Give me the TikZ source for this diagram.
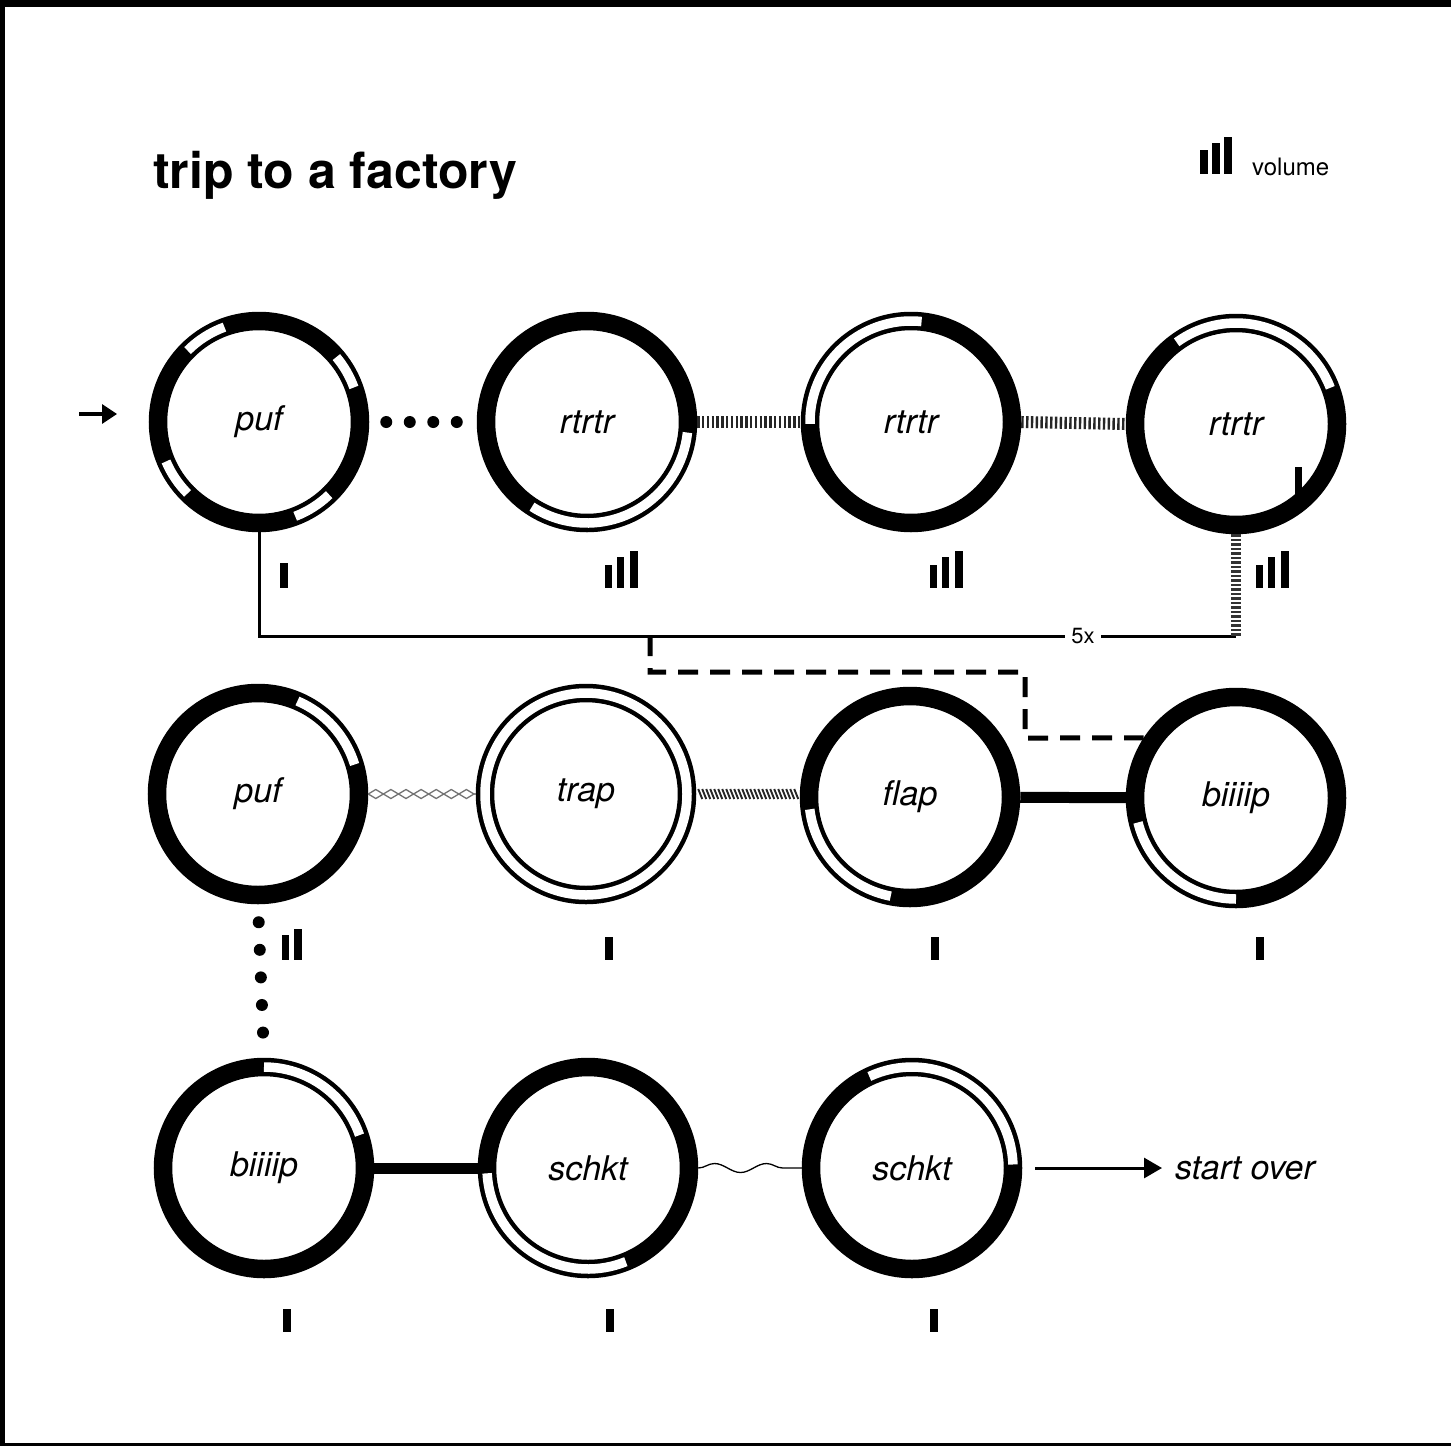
\documentclass[tikz,border=0pt]{standalone}
\usepackage{fontspec}
\setmainfont{TeX Gyre Heros}
\usetikzlibrary{arrows.meta,decorations.pathmorphing,calc}
\newcommand\holarc[3]{\draw[hollow] (#1.center) ++(#2:101) arc[start angle=#2,end angle=#3,radius=101];}
\newcommand\vbar[3]{\fill (#1-3.8,-#2) rectangle (#1+3.8,-#2+#3);}
\begin{document}
\begin{tikzpicture}[x=1pt,y=1pt,
 ring/.style={circle,draw=black,line width=18.5pt,minimum size=202pt,inner sep=0pt,font=\itshape\fontsize{34}{40}\selectfont},
 hollow/.style={draw=white,line width=9.5pt},
 dotline/.style={line width=12pt,line cap=round,dash pattern=on 0pt off 23.5pt},
 hatchline/.style={line width=12pt,dash pattern=on 2.4pt off 2.4pt,draw=black!85},
 thickline/.style={line width=11pt},
 loopline/.style={line width=3pt},
 dashline/.style={line width=5pt,dash pattern=on 20pt off 12pt},
 thinline/.style={line width=1.3pt},
 label/.style={font=\itshape\fontsize{34}{40}\selectfont},
]
\useasboundingbox (0,0) rectangle (1451,-1446);
\fill[white] (0,0) rectangle (1451,-1446);
% frame remnants
\fill (0,0) rectangle (1451,-7);
\fill (0,0) rectangle (5,-1446);
\fill (0,-1443) rectangle (1451,-1446);

% title and legend
\node[anchor=base west,inner sep=0pt,font=\bfseries\fontsize{50}{58}\selectfont] (title) at (153,-188) {trip to a factory};
\vbar{1204}{174}{24}\vbar{1216}{174}{31}\vbar{1228}{174}{37}
\node[anchor=base west,inner sep=0pt,font=\fontsize{24}{28}\selectfont] (vol) at (1252,-175) {volume};

% row 1
\node[ring] (r1a) at (259,-422) {puf};
\node[ring] (r1b) at (587,-422) {rtrtr};
\node[ring] (r1c) at (911,-422) {rtrtr};
\node[ring] (r1d) at (1236,-424) {rtrtr};
\holarc{r1a}{20}{40}\holarc{r1a}{110}{135}\holarc{r1a}{203}{225}\holarc{r1a}{291}{314}
\holarc{r1b}{237}{354}
\holarc{r1c}{84}{181}
\holarc{r1d}{21}{126}
\fill (1295,-467) rectangle (1302,-500);

% row 2
\node[ring] (r2a) at (258,-794) {puf};
\node[ring] (r2b) at (586,-794) {trap};
\node[ring] (r2c) at (910,-797) {flap};
\node[ring] (r2d) at (1236,-798) {biiiip};
\holarc{r2a}{17}{67}
\draw[hollow] (r2b.center) circle[radius=101];
\holarc{r2c}{187}{259}
\holarc{r2d}{194}{270}

% row 3
\node[ring] (r3a) at (264,-1168) {biiiip};
\node[ring] (r3b) at (588,-1168) {schkt};
\node[ring] (r3c) at (912,-1168) {schkt};
\holarc{r3a}{19}{90}
\holarc{r3b}{183}{292}
\holarc{r3c}{2}{115}

% entry arrow
\coordinate (in0) at (79,-414);
\coordinate (in1) at (117,-414);
\draw[line width=3.2pt,-{Triangle[length=15pt,width=19pt]}] (in0) -- (in1);

% row 1 connectors
\draw[dotline,shorten <=17pt,shorten >=20pt] (r1a.east) -- (r1b.west);
\draw[hatchline] (r1b.east) -- (r1c.west);
\draw[hatchline] (r1c.east) -- (r1d.west);

% repeat loop
\coordinate (c5) at (1236,-636);
\coordinate (cd) at (650,-636);
\coordinate (cd1) at (650,-672);
\coordinate (cd2) at (1025,-672);
\coordinate (cd3) at (1025,-738);
\draw[loopline] (r1a.south) |- (c5);
\draw[line width=10pt,dash pattern=on 2.5pt off 2pt,draw=black!80] (r1d.south) -- (c5);
\node[fill=white,inner xsep=6pt,inner ysep=2pt,font=\fontsize{22}{26}\selectfont] (fivex) at (1083,-636) {5x};
\draw[dashline] (cd) -- (cd1) -- (cd2) -- (cd3) -- (r2d.147);

% row 2 connectors
\draw[thinline,draw=black!55,decorate,decoration={zigzag,segment length=30.2pt,amplitude=4.5pt}] (r2a.east) -- (r2b.west);
\draw[thinline,draw=black!55,decorate,decoration={zigzag,segment length=30.2pt,amplitude=4.5pt,mirror}] (r2a.east) -- (r2b.west);
\foreach \i in {0,...,24} \draw[line width=1.9pt,draw=black!85] ($(r2b.east)+(2+\i*4,5)$) -- ++(4,-10);
\draw[thickline] (r2c) -- (r2d);
\draw[dotline,dash pattern=on 0pt off 27.6pt,shorten <=18pt,shorten >=25pt] (r2a.south) -- (r3a.north);

% row 3 connectors
\draw[thickline] (r3a) -- (r3b);
\draw[thinline,decorate,decoration={snake,segment length=52pt,amplitude=4.5pt}] (r3b.east) -- (r3c.west);
\node[label,anchor=west,inner xsep=13pt,inner ysep=0pt] (so) at (1162,-1168) {start over};
\draw[line width=3pt,shorten <=13pt,-{Triangle[length=18pt,width=20pt]}] (r3c.east) -- (so.west);

% volume marks
\vbar{284}{588}{25}
\vbar{608.5}{588}{23}\vbar{620.5}{588}{31}\vbar{634}{588}{37}
\vbar{933.5}{588}{23}\vbar{945.5}{588}{31}\vbar{959}{588}{37}
\vbar{1259.5}{588}{23}\vbar{1271.5}{588}{31}\vbar{1285}{588}{37}
\vbar{285.5}{960}{25}\vbar{298}{960}{31}
\vbar{609}{960}{23}\vbar{935}{960}{23}\vbar{1260}{960}{23}
\vbar{287}{1332}{23}\vbar{610}{1332}{23}\vbar{934}{1332}{23}
\end{tikzpicture}
\end{document}
